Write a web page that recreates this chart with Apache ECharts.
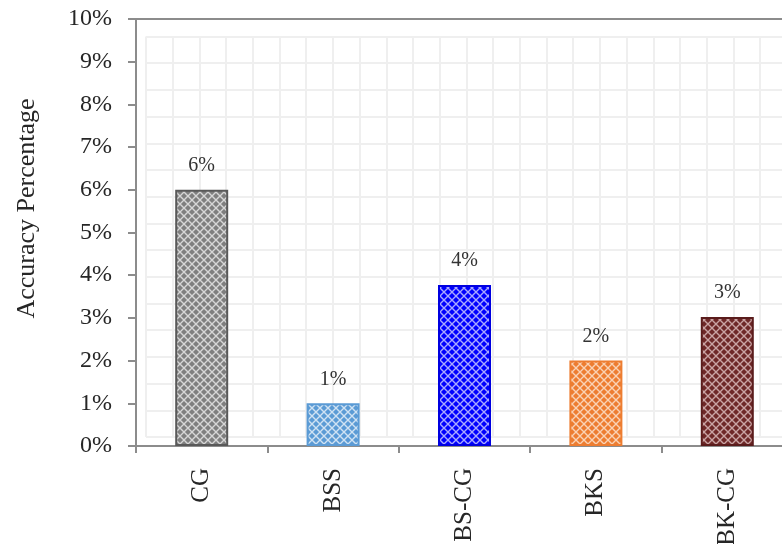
<!DOCTYPE html>
<html>
<head>
<meta charset="utf-8">
<script src="https://cdn.jsdelivr.net/npm/echarts@6/dist/echarts.min.js"></script>
<style>
  html, body { margin: 0; padding: 0; background: #fff; }
  #main { width: 782px; height: 544px; }
</style>
</head>
<body>
<div id="main"></div>
<script>
const categories = ['CG', 'BSS', 'BS-CG', 'BKS', 'BK-CG']
const accuracy = [6, 1, 3.77, 2, 3.02]   // percent
const yTicks = [0, 10, 1]                 // min, max, step

// bar fill / pattern line / border colours
const barColors = [
  ['#7f7f7f', '#d6d6d6', '#595959'],
  ['#5b9bd5', '#cfe2f3', '#5b9bd5'],
  ['#0000ff', '#a8a8ff', '#0000e0'],
  ['#ed7d31', '#fad2b4', '#ed7d31'],
  ['#6e2828', '#c9a3a3', '#5a1c1c']
]

const serif = 'Liberation Serif'
const axisGray = '#8c8c8c'
const cell = 26.7   // background grid cell

function diamond(fg, line) {
  const c = document.createElement('canvas')
  c.width = c.height = 8
  const ctx = c.getContext('2d')
  ctx.fillStyle = fg
  ctx.fillRect(0, 0, 8, 8)
  ctx.strokeStyle = line
  ctx.lineWidth = 1.4
  ctx.beginPath()
  ctx.moveTo(0, 0); ctx.lineTo(8, 8)
  ctx.moveTo(8, 0); ctx.lineTo(0, 8)
  ctx.stroke()
  return c
}

const myChart = echarts.init(document.getElementById('main'))

myChart.setOption({
  animation: false,
  grid: [
    { left: 136, top: 19, width: 657, height: 427, show: true, outerBoundsMode: 'none',
      borderColor: axisGray, borderWidth: 2, backgroundColor: 'transparent' },
    { left: 146, top: 36.5, width: 25 * cell, height: 15 * cell, outerBoundsMode: 'none' }
  ],
  xAxis: [
    {
      type: 'category',
      data: categories,
      gridIndex: 0,
      axisLine: { lineStyle: { color: axisGray, width: 2 } },
      axisTick: { show: true, length: 7, lineStyle: { color: axisGray, width: 2 } },
      axisLabel: { rotate: 90, margin: 22, fontFamily: serif, fontSize: 25, color: '#262626' }
    },
    {
      type: 'value', gridIndex: 1, min: 0, max: 25, interval: 1,
      axisLine: { show: false }, axisTick: { show: false }, axisLabel: { show: false },
      splitLine: { show: true, lineStyle: { color: '#efefef', width: 2 } }
    }
  ],
  yAxis: [
    {
      type: 'value',
      gridIndex: 0,
      min: yTicks[0], max: yTicks[1], interval: yTicks[2],
      name: 'Accuracy Percentage',
      nameLocation: 'middle',
      nameGap: 96,
      nameTextStyle: { fontFamily: serif, fontSize: 26, color: '#262626', padding: [0, 0, 0, 48] },
      axisLine: { show: true, lineStyle: { color: axisGray, width: 2 } },
      axisTick: { show: true, length: 8, lineStyle: { color: axisGray, width: 2 } },
      axisLabel: { margin: 24, fontFamily: serif, fontSize: 24, color: '#262626', formatter: '{value}%' },
      splitLine: { show: false }
    },
    {
      type: 'value', gridIndex: 1, min: 0, max: 15, interval: 1, inverse: true,
      axisLine: { show: false }, axisTick: { show: false }, axisLabel: { show: false },
      splitLine: { show: true, lineStyle: { color: '#efefef', width: 2 } }
    }
  ],
  series: [{
    type: 'bar',
    xAxisIndex: 0,
    yAxisIndex: 0,
    barWidth: 53,
    data: accuracy.map((v, i) => ({
      value: v,
      itemStyle: {
        color: { image: diamond(barColors[i][0], barColors[i][1]), repeat: 'repeat' },
        borderColor: barColors[i][2],
        borderWidth: 2
      }
    })),
    label: {
      show: true,
      position: 'top',
      distance: 14,
      fontFamily: serif,
      fontSize: 20,
      color: '#333',
      formatter: p => Math.round(p.value) + '%'
    }
  }]
})
</script>
</body>
</html>
